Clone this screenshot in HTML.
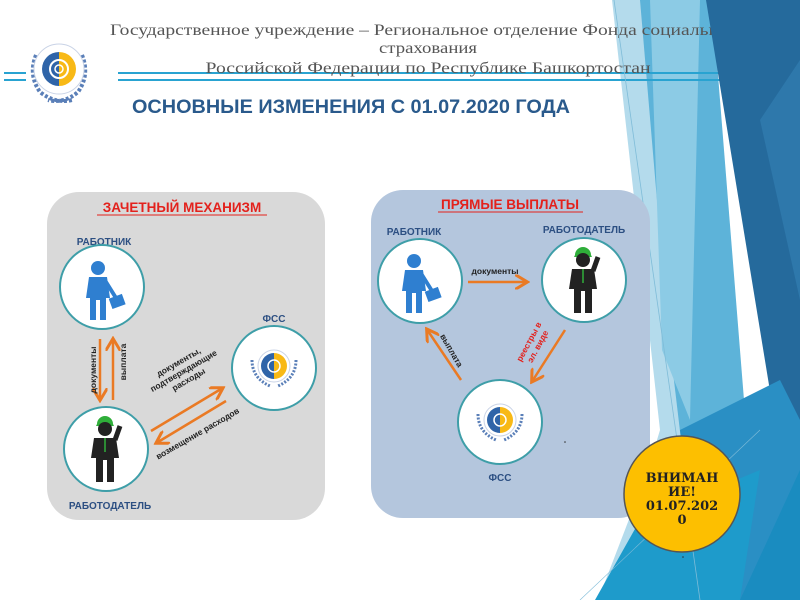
<!DOCTYPE html>
<html><head><meta charset="utf-8"><style>
html,body{margin:0;padding:0;background:#fff;}
svg{display:block;}
text{font-family:"Liberation Sans",sans-serif;}
</style></head><body>
<svg width="800" height="600" viewBox="0 0 800 600" xmlns="http://www.w3.org/2000/svg">
<!-- light background layers (behind text) -->
<polygon points="612,0 712,0 712,600 598,600 648,470 660,430" fill="#b4dbec"/>
<polygon points="640,0 712,0 760,600 700,600 668,330" fill="#5db3d9"/>
<polygon points="650,0 700,0 690,420 662,350" fill="#8ccbe5"/>

<!-- header lines -->
<rect x="4" y="72" width="22" height="2" fill="#29a3d1"/>
<rect x="4" y="79" width="22" height="2" fill="#29a3d1"/>
<rect x="118" y="72" width="682" height="2" fill="#29a3d1"/>
<rect x="118" y="79" width="510" height="2" fill="#29a3d1"/>
<rect x="628" y="79" width="172" height="2" fill="#29a3d1"/>

<!-- header text -->
<g fill="#555" font-size="15.5" text-anchor="middle">
<text x="428" y="35" textLength="636" lengthAdjust="spacingAndGlyphs" style="font-family:'Liberation Serif',serif">Государственное учреждение – Региональное отделение Фонда социального</text>
<text x="428" y="53" textLength="98" lengthAdjust="spacingAndGlyphs" style="font-family:'Liberation Serif',serif">страхования</text>
<text x="428" y="73" textLength="445" lengthAdjust="spacingAndGlyphs" style="font-family:'Liberation Serif',serif">Российской Федерации по Республике Башкортостан</text>
</g>

<!-- dark background layers (over text) -->
<polygon points="706,0 800,0 800,500 778,440" fill="#256a9c"/>
<polygon points="760,120 800,60 800,300" fill="#2e78ab"/>
<polygon points="680,430 780,380 800,420 800,600 700,600" fill="#2a8fc4"/>
<polygon points="595,600 640,520 760,470 740,600" fill="#1e9bcb"/>
<polygon points="740,600 800,470 800,600" fill="#1a8cc0"/>
<line x1="614" y1="0" x2="700" y2="600" stroke="#7fbcd8" stroke-width="0.8"/>
<line x1="580" y1="600" x2="760" y2="430" stroke="#7fbcd8" stroke-width="0.6"/>

<!-- logo -->
<g>
<path d="M36,55 Q28,75 40,92 Q55,104 72,100" fill="none" stroke="#5a7fb8" stroke-width="4" stroke-dasharray="3,2"/>
<path d="M82,55 Q90,75 78,92 Q64,104 48,100" fill="none" stroke="#5a7fb8" stroke-width="4" stroke-dasharray="3,2"/>
<circle cx="59" cy="69" r="25" fill="#fff" stroke="#c9d3e6" stroke-width="1"/>
<path d="M59,52 A17,17 0 0 0 59,86 Z" fill="#2f64a8"/>
<path d="M59,52 A17,17 0 0 1 59,86 Z" fill="#f8b916"/>
<circle cx="59" cy="69" r="9" fill="none" stroke="#fff" stroke-width="2"/>
<circle cx="59" cy="69" r="4" fill="none" stroke="#fff" stroke-width="1.5"/>
</g>

<text x="132" y="113" font-size="19" font-weight="bold" fill="#2a5a8c" textLength="438" lengthAdjust="spacingAndGlyphs">ОСНОВНЫЕ ИЗМЕНЕНИЯ С 01.07.2020 ГОДА</text>

<defs>
<marker id="ah" markerWidth="6" markerHeight="6" refX="4" refY="3" orient="auto" markerUnits="strokeWidth">
<path d="M0,0 L5,3 L0,6" fill="none" stroke="#ea7a24" stroke-width="1.2"/>
</marker>
<g id="worker">
<circle cx="0" cy="-22" r="7" fill="#2f7fd0"/>
<path d="M-9,-13 L9,-13 L12,8 L8,8 L8,30 L2,30 L2,10 L-2,10 L-2,30 L-8,30 L-8,8 L-12,8 Z" fill="#2f7fd0"/>
<path d="M8,-8 L18,8" stroke="#2f7fd0" stroke-width="4"/>
<rect x="12" y="6" width="14" height="11" fill="#2f7fd0" transform="rotate(-20 19 11)"/>
</g>
<g id="boss">
<path d="M-8,-26 A8,8 0 0 1 8,-26 L9,-24 L-9,-24 Z" fill="#2fae3a"/>
<circle cx="0" cy="-21" r="7" fill="#222"/>
<path d="M-11,-12 L11,-12 L14,8 L9,8 L9,32 L2,32 L2,10 L-2,10 L-2,32 L-9,32 L-9,8 L-14,8 Z" fill="#222"/>
<path d="M10,-10 L15,-24" stroke="#222" stroke-width="5"/>
<line x1="0" y1="-12" x2="0" y2="2" stroke="#2fae3a" stroke-width="1.5"/>
</g>
<g id="fss">
<path d="M-22,-6 Q-22,12 -4,20" fill="none" stroke="#5a7fb8" stroke-width="3" stroke-dasharray="2,1.5"/>
<path d="M22,-6 Q22,12 4,20" fill="none" stroke="#5a7fb8" stroke-width="3" stroke-dasharray="2,1.5"/>
<circle r="16" fill="#fff" stroke="#c9d3e6"/>
<path d="M0,-13 A13,13 0 0 0 0,13 Z" fill="#2f64a8"/>
<path d="M0,-13 A13,13 0 0 1 0,13 Z" fill="#f8b916"/>
<circle r="6" fill="none" stroke="#fff" stroke-width="1.5"/>
</g>
</defs>

<!-- left panel -->
<rect x="47" y="192" width="278" height="328" rx="32" fill="#d9d9d9"/>
<text x="182" y="212" font-size="13.5" font-weight="bold" fill="#e3211c" text-anchor="middle">ЗАЧЕТНЫЙ МЕХАНИЗМ</text>
<line x1="97" y1="215" x2="267" y2="215" stroke="#e3211c" stroke-width="1"/>
<text x="104" y="245" font-size="10" font-weight="bold" fill="#2c4f82" text-anchor="middle">РАБОТНИК</text>
<circle cx="102" cy="287" r="42" fill="#fff" stroke="#3e9ea8" stroke-width="2"/>
<use href="#worker" x="98" y="290"/>
<circle cx="106" cy="449" r="42" fill="#fff" stroke="#3e9ea8" stroke-width="2"/>
<use href="#boss" x="105" y="450"/>
<text x="110" y="509" font-size="10" font-weight="bold" fill="#2c4f82" text-anchor="middle">РАБОТОДАТЕЛЬ</text>
<text x="274" y="322" font-size="10" font-weight="bold" fill="#2c4f82" text-anchor="middle">ФСС</text>
<circle cx="274" cy="368" r="42" fill="#fff" stroke="#3e9ea8" stroke-width="2"/>
<use href="#fss" x="274" y="366"/>
<line x1="100" y1="339" x2="100" y2="398" stroke="#ea7a24" stroke-width="2.5" marker-end="url(#ah)"/>
<line x1="113" y1="400" x2="113" y2="341" stroke="#ea7a24" stroke-width="2.5" marker-end="url(#ah)"/>
<text transform="translate(96,370) rotate(-90)" font-size="8.5" font-weight="bold" fill="#222" text-anchor="middle">документы</text>
<text transform="translate(126,362) rotate(-90)" font-size="8.5" font-weight="bold" fill="#222" text-anchor="middle">выплата</text>
<line x1="151" y1="431" x2="221" y2="389" stroke="#ea7a24" stroke-width="2.5" marker-end="url(#ah)"/>
<line x1="226" y1="401" x2="158" y2="442" stroke="#ea7a24" stroke-width="2.5" marker-end="url(#ah)"/>
<g transform="translate(190,382) rotate(-30)" font-size="8.5" font-weight="bold" fill="#222" text-anchor="middle">
<text x="0" y="-20">документы,</text><text x="0" y="-10">подтверждающие</text><text x="0" y="0">расходы</text></g>
<text transform="translate(199,436) rotate(-30)" font-size="8.5" font-weight="bold" fill="#222" text-anchor="middle">возмещение расходов</text>

<!-- right panel -->
<rect x="371" y="190" width="279" height="328" rx="32" fill="#b4c6dd"/>
<text x="510" y="209" font-size="13.5" font-weight="bold" fill="#e3211c" text-anchor="middle">ПРЯМЫЕ ВЫПЛАТЫ</text>
<line x1="438" y1="212" x2="583" y2="212" stroke="#e3211c" stroke-width="1"/>
<text x="414" y="235" font-size="10" font-weight="bold" fill="#2c4f82" text-anchor="middle">РАБОТНИК</text>
<text x="584" y="233" font-size="10" font-weight="bold" fill="#2c4f82" text-anchor="middle">РАБОТОДАТЕЛЬ</text>
<circle cx="420" cy="281" r="42" fill="#fff" stroke="#3e9ea8" stroke-width="2"/>
<use href="#worker" x="414" y="283"/>
<circle cx="584" cy="280" r="42" fill="#fff" stroke="#3e9ea8" stroke-width="2"/>
<use href="#boss" x="583" y="281"/>
<circle cx="500" cy="422" r="42" fill="#fff" stroke="#3e9ea8" stroke-width="2"/>
<use href="#fss" x="500" y="420"/>
<text x="500" y="481" font-size="10" font-weight="bold" fill="#2c4f82" text-anchor="middle">ФСС</text>
<line x1="468" y1="282" x2="525" y2="282" stroke="#ea7a24" stroke-width="2.5" marker-end="url(#ah)"/>
<text x="495" y="274" font-size="8.5" font-weight="bold" fill="#222" text-anchor="middle">документы</text>
<line x1="461" y1="380" x2="428" y2="331" stroke="#ea7a24" stroke-width="2.5" marker-end="url(#ah)"/>
<text transform="translate(449,352) rotate(60)" font-size="8.5" font-weight="bold" fill="#222" text-anchor="middle">выплата</text>
<line x1="565" y1="330" x2="533" y2="380" stroke="#ea7a24" stroke-width="2.5" marker-end="url(#ah)"/>
<g transform="translate(535,345) rotate(-62)" font-size="8.5" font-weight="bold" fill="#e3211c" text-anchor="middle">
<text x="0" y="-4">реестры в</text><text x="0" y="6">эл. виде</text></g>

<!-- attention circle -->
<circle cx="682" cy="494" r="58" fill="#fdbf00" stroke="#555" stroke-width="1.5"/>
<g font-size="13" font-weight="bold" fill="#222" text-anchor="middle">
<text x="682" y="482" style="font-family:'DejaVu Serif',serif">ВНИМАН</text>
<text x="682" y="496" style="font-family:'DejaVu Serif',serif">ИЕ!</text>
<text x="682" y="510" style="font-family:'DejaVu Serif',serif">01.07.202</text>
<text x="682" y="524" style="font-family:'DejaVu Serif',serif">0</text>
</g>
<circle cx="565" cy="442" r="0.8" fill="#333"/>
<circle cx="683" cy="557" r="0.8" fill="#333"/>
</svg>
</body></html>
